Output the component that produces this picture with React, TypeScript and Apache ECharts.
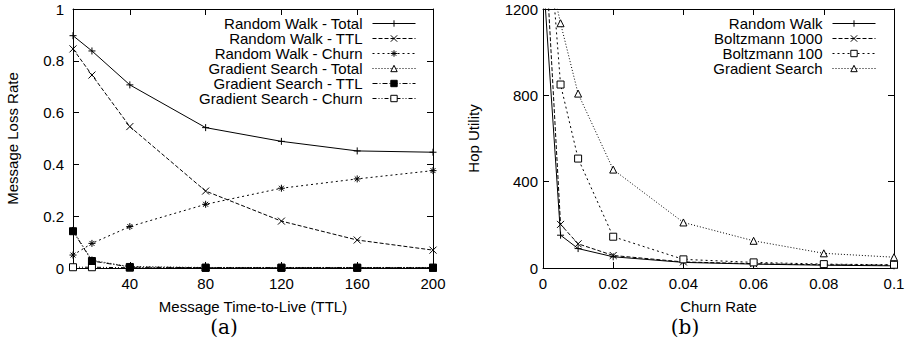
import React, { useEffect, useRef } from 'react';
import * as echarts from 'echarts';

// ---- Data: chart (a) ----
const ttlValues = [10, 20, 40, 80, 120, 160, 200];
const ttlTicks = [40, 80, 120, 160, 200];
const rwTotal = [0.897, 0.838, 0.707, 0.542, 0.489, 0.452, 0.447];
const rwTTL = [0.846, 0.745, 0.546, 0.297, 0.181, 0.108, 0.069];
const rwChurn = [0.05, 0.095, 0.16, 0.246, 0.308, 0.344, 0.376];
const gsTotal = [0.145, 0.03, 0.005, 0.002, 0.002, 0.002, 0.002];
const gsTTL = [0.142, 0.027, 0.004, 0.001, 0.001, 0.001, 0.001];
const gsChurn = [0.003, 0.003, 0.001, 0.001, 0.001, 0.001, 0.001];
const namesA = [
  'Random Walk - Total',
  'Random Walk - TTL',
  'Random Walk - Churn',
  'Gradient Search - Total',
  'Gradient Search - TTL',
  'Gradient Search - Churn',
];

// ---- Data: chart (b) ----
const churnRates = [0, 0.005, 0.01, 0.02, 0.04, 0.06, 0.08, 0.1];
const hopRW = [1370, 152, 90, 52, 26, 18, 13, 10];
const hopB1000 = [1680, 202, 112, 58, 28, 20, 15, 13];
const hopB100 = [1900, 850, 507, 145, 40, 26, 18, 15];
const hopGS = [1500, 1134, 808, 456, 211, 126, 68, 50];
const namesB = ['Random Walk', 'Boltzmann 1000', 'Boltzmann 100', 'Gradient Search'];

const FONT = 'Liberation Sans, Arial, Helvetica, sans-serif';
const PLUS = 'path://M0,5L10,5M5,0L5,10';
const CROSS = 'path://M0,0L10,10M10,0L0,10';
const STAR = 'path://M0,5L10,5M5,0L5,10M1.5,1.5L8.5,8.5M8.5,1.5L1.5,8.5';

function mk(name: string, xs: number[], ys: number[], symbol: string, dash: any, fill: string, idx: number, z = 2) {
  return {
    type: 'line',
    name,
    xAxisIndex: idx * 2,
    yAxisIndex: idx * 2,
    data: xs.map((x, i) => [x, ys[i]]),
    symbol,
    symbolSize: 7,
    showAllSymbol: true,
    clip: true,
    z,
    color: '#000',
    lineStyle: { color: '#000', width: 1, type: dash },
    itemStyle: { color: fill, borderColor: '#000', borderWidth: 1 },
    emphasis: { disabled: true },
    silent: true,
  };
}

const numFmt = (v: number) => String(Math.round(v * 1000) / 1000);

function xAxes(grid: number, min: number, max: number, extra: any, name: string) {
  const common = {
    type: 'value',
    gridIndex: grid,
    min,
    max,
    splitLine: { show: false },
    axisLine: { show: true, onZero: false, lineStyle: { color: '#000', width: 1 } },
  };
  return [
    {
      ...common,
      position: 'bottom',
      name,
      nameLocation: 'middle',
      nameGap: 31,
      nameTextStyle: { color: '#000', fontSize: 15, fontFamily: FONT },
      axisTick: { show: true, inside: true, length: 6, lineStyle: { color: '#000' }, ...(extra.tick || {}) },
      axisLabel: { show: true, margin: 8, color: '#000', fontSize: 15, fontFamily: FONT, formatter: numFmt, showMinLabel: true, showMaxLabel: true, ...(extra.label || {}) },
      ...(extra.axis || {}),
    },
    {
      ...common,
      position: 'top',
      axisTick: { show: true, inside: true, length: 6, lineStyle: { color: '#000' }, ...(extra.tick || {}) },
      axisLabel: { show: false },
      ...(extra.axis || {}),
    },
  ];
}

function yAxes(grid: number, min: number, max: number, interval: number, name: string, nameGap: number, margin: number) {
  const common = {
    type: 'value',
    gridIndex: grid,
    min,
    max,
    interval,
    splitLine: { show: false },
    axisLine: { show: true, onZero: false, lineStyle: { color: '#000', width: 1 } },
    axisTick: { show: true, inside: true, length: 6, lineStyle: { color: '#000' } },
  };
  return [
    {
      ...common,
      position: 'left',
      name,
      nameLocation: 'middle',
      nameGap,
      nameTextStyle: { color: '#000', fontSize: 15, fontFamily: FONT },
      axisLabel: { show: true, margin, color: '#000', fontSize: 15, fontFamily: FONT, formatter: numFmt, showMinLabel: true, showMaxLabel: true },
    },
    { ...common, position: 'right', axisLabel: { show: false } },
  ];
}

function legend(names: string[], right: number, textWidth: number) {
  return {
    data: names,
    orient: 'vertical',
    right,
    top: 16,
    align: 'right',
    itemWidth: 43,
    itemHeight: 8,
    itemGap: 0,
    padding: 0,
    selectedMode: false,
    lineStyle: { width: 1 },
    itemStyle: { borderWidth: 1 },
    formatter: (n: string) => `{t|${n}}`,
    textStyle: {
      color: '#000',
      fontSize: 15,
      fontFamily: FONT,
      rich: { t: { width: textWidth, align: 'right', lineHeight: 15, fontSize: 15, fontFamily: FONT, color: '#000', padding: [0, 5, 0, 0] } },
    },
  };
}

export default function App() {
  const ref = useRef<HTMLDivElement>(null);
  useEffect(() => {
    if (!ref.current) return;
    const chart = echarts.init(ref.current, undefined, { renderer: 'svg' });
    const option: any = {
      animation: false,
      textStyle: { fontFamily: FONT },
      grid: [
        { left: 73, top: 9, width: 360, height: 259 },
        { left: 543, top: 9, width: 351, height: 259 },
      ],
      xAxis: [
        ...xAxes(0, 10, 200, { tick: { customValues: ttlTicks }, label: { customValues: ttlTicks } }, 'Message Time-to-Live (TTL)'),
        ...xAxes(1, 0, 0.1, { axis: { interval: 0.02 } }, 'Churn Rate'),
      ],
      yAxis: [
        ...yAxes(0, 0, 1, 0.2, 'Message Loss Rate', 53, 9),
        ...yAxes(1, 0, 1200, 400, 'Hop Utility', 62, 5),
      ],
      legend: [legend(namesA, 496, 165), legend(namesB, 36, 115)],
      series: [
        mk(namesA[0], ttlValues, rwTotal, PLUS, 'solid', '#000', 0),
        mk(namesA[1], ttlValues, rwTTL, CROSS, [4, 2], '#000', 0),
        mk(namesA[2], ttlValues, rwChurn, STAR, [2, 3], '#000', 0),
        mk(namesA[3], ttlValues, gsTotal, 'triangle', [1, 2], '#fff', 0),
        mk(namesA[4], ttlValues, gsTTL, 'rect', [5, 2, 1, 2], '#000', 0, 4),
        mk(namesA[5], ttlValues, gsChurn, 'rect', [4, 2, 1, 2, 1, 2], '#fff', 0, 3),
        mk(namesB[0], churnRates, hopRW, PLUS, 'solid', '#000', 1),
        mk(namesB[1], churnRates, hopB1000, CROSS, [4, 2], '#000', 1),
        mk(namesB[2], churnRates, hopB100, 'rect', [2, 3], '#fff', 1),
        mk(namesB[3], churnRates, hopGS, 'triangle', [1, 2], '#fff', 1),
      ],
      graphic: [
        { type: 'text', x: 224, y: 327, style: { text: '(a)', font: '20px DejaVu Serif, serif', fill: '#000', textAlign: 'center', textVerticalAlign: 'middle', align: 'center', verticalAlign: 'middle' } },
        { type: 'text', x: 685, y: 327, style: { text: '(b)', font: '20px DejaVu Serif, serif', fill: '#000', textAlign: 'center', textVerticalAlign: 'middle', align: 'center', verticalAlign: 'middle' } },
      ],
    };
    chart.setOption(option);
    return () => chart.dispose();
  }, []);
  return <div ref={ref} style={{ position: 'absolute', left: 0, top: 0, width: 912, height: 344, background: '#fff' }} />;
}
